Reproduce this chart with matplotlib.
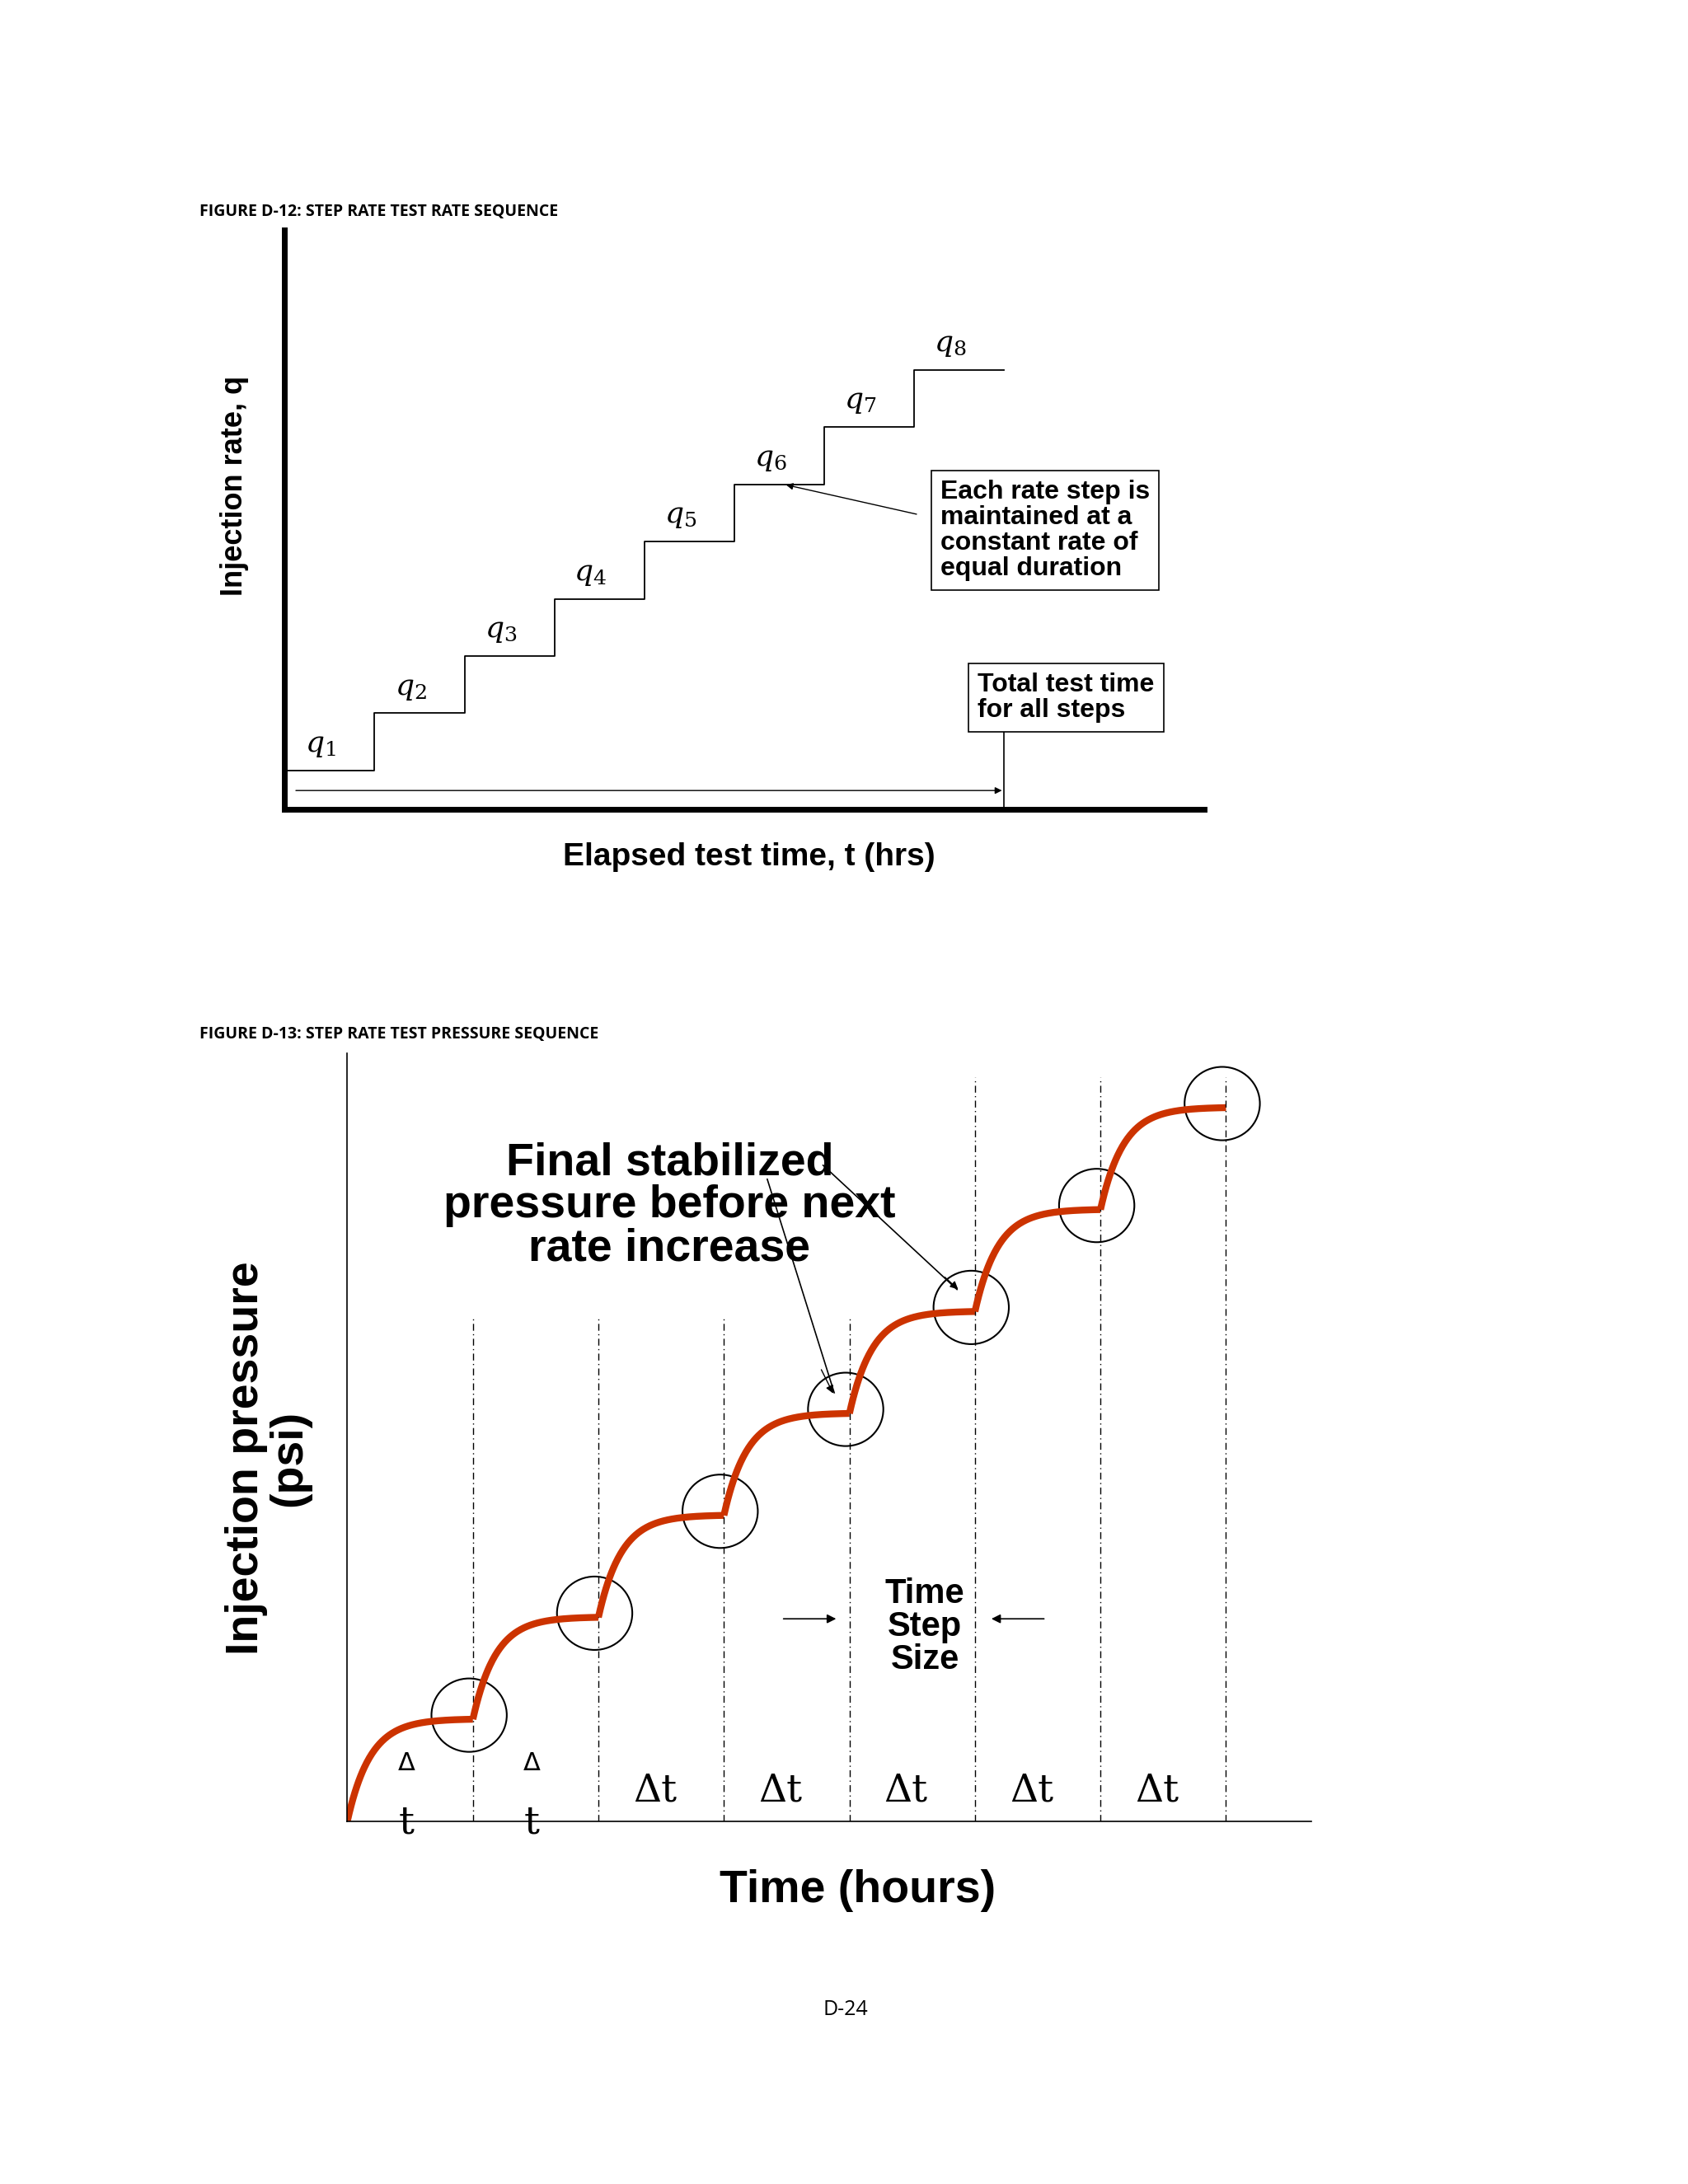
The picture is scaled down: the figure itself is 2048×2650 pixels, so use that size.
import matplotlib
matplotlib.use("Agg")
import matplotlib.pyplot as plt
import numpy as np
from matplotlib.patches import Ellipse

# ---- data ----
rate_steps = [1, 2, 3, 4, 5, 6, 7, 8]
rate_labels = ["$q_1$", "$q_2$", "$q_3$", "$q_4$", "$q_5$", "$q_6$", "$q_7$", "$q_8$"]
pressure_levels = [1, 2, 3, 4, 5, 6, 7]
step_bounds = [1, 2, 3, 4, 5, 6, 7]
dt_labels = ["Δ\nt", "Δ\nt", "Δt", "Δt", "Δt", "Δt", "Δt"]

W, H = 1210, 1565
fig = plt.figure(figsize=(20.48, 26.5), dpi=100)
SANS = ["Liberation Sans", "DejaVu Sans"]

def F(x, y):
    return (x / W, 1 - y / H)

def txt(x, y, s, **kw):
    kw.setdefault("family", SANS)
    fig.text(*F(x, y), s, transform=fig.transFigure, **kw)

def ax_at(x0, y0, x1, y1):
    l, b = F(x0, y1)
    r, t = F(x1, y0)
    return fig.add_axes([l, b, r - l, t - b])

# ---- top chart ----
ax = ax_at(204, 165, 863, 580)
ax.set_xlim(0, 10.22)
ax.set_ylim(0.32, 10.44)
for s in ["top", "right"]:
    ax.spines[s].set_visible(False)
for s in ["left", "bottom"]:
    ax.spines[s].set_linewidth(5)
ax.set_xticks([]); ax.set_yticks([])
xs = np.arange(len(rate_steps) + 1)
ys = rate_steps + [rate_steps[-1]]
ax.step(xs, ys, where="post", color="black", lw=1.3)
for i, (q, lab) in enumerate(zip(rate_steps, rate_labels)):
    ax.text(i + 0.4, q + 0.2, lab, fontsize=26, family="DejaVu Serif",
            ha="center", va="bottom", math_fontfamily="dejavuserif")
ax.annotate("", xy=(8, 0.65), xytext=(0.1, 0.65),
            arrowprops=dict(arrowstyle="-|>", color="black", lw=1, mutation_scale=12))
ax.plot([8, 8], [0.32, 1.72], color="black", lw=1.2)
ax.annotate("", xy=(5.55, 6.0), xytext=(7.05, 5.47),
            arrowprops=dict(arrowstyle="-|>", color="black", lw=1, mutation_scale=12))
txt(674, 380, "Each rate step is\nmaintained at a\nconstant rate of\nequal duration", fontsize=23,
    weight="bold", va="center", linespacing=1.05,
    bbox=dict(boxstyle="square,pad=0.35", fc="white", ec="black", lw=1.2))
txt(701, 500, "Total test time\nfor all steps", fontsize=23, weight="bold", va="center",
    linespacing=1.05, bbox=dict(boxstyle="square,pad=0.35", fc="white", ec="black", lw=1.2))
txt(168, 348, "Injection rate, q", fontsize=26, weight="bold", rotation=90, ha="center", va="center")
txt(537, 614, "Elapsed test time, t (hrs)", fontsize=28, weight="bold", ha="center", va="center")
txt(143, 152, "FIGURE D-12: STEP RATE TEST RATE SEQUENCE", fontsize=14, weight="bold",
    family=["Open Sans", "DejaVu Sans"], va="center")

# ---- bottom chart ----
bx = ax_at(249, 755, 940, 1305)
bx.set_xlim(0, 7.68)
bx.set_ylim(0, 7.53)
for s in ["top", "right"]:
    bx.spines[s].set_visible(False)
bx.spines["left"].set_linewidth(1.2)
bx.spines["bottom"].set_linewidth(1.2)
bx.set_xticks([]); bx.set_yticks([])
bx.patch.set_alpha(0)

prev = 0.0
for i, (lvl, xb) in enumerate(zip(pressure_levels, step_bounds)):
    t = np.linspace(xb - 1, xb, 200)
    u = t - (xb - 1)
    shape = 1 - np.exp(-5.5 * u)
    shape = shape / shape[-1]
    bx.plot(t, prev + (lvl - prev) * shape, color="#CC3300", lw=6, solid_capstyle="butt")
    prev = lvl
    top = 4.95 if i < 4 else 7.3
    bx.plot([xb, xb], [0, top], color="black", lw=1, ls=(0, (6, 3, 1, 3)))
    bx.add_patch(Ellipse((xb - 0.03, lvl + 0.04), 0.6, 0.72, fill=False, ec="black", lw=1.5))
    lab = dt_labels[i]
    if "\n" in lab:
        bx.text(xb - 0.53, 0.57, "Δ", fontsize=22, ha="center", va="center", family="DejaVu Sans")
        bx.text(xb - 0.53, -0.02, "t", fontsize=34, ha="center", va="center", family="DejaVu Serif")
    else:
        bx.text(xb - 0.55, 0.3, lab, fontsize=34, ha="center", va="center", family="DejaVu Serif")

txt(480, 864, "Final stabilized\npressure before next\nrate increase", fontsize=40, weight="bold",
    ha="center", va="center", linespacing=1.0)
fig.add_artist(plt.Line2D([550 / W, 598 / W], [1 - 845 / H, 1 - 998 / H], color="black", lw=1.2))
fig.add_artist(plt.Line2D([590 / W, 686 / W], [1 - 835 / H, 1 - 924 / H], color="black", lw=1.2))
fig.patches.append(matplotlib.patches.FancyArrowPatch(F(588, 980), F(598, 1000),
    transform=fig.transFigure, arrowstyle="-|>", mutation_scale=14, color="black"))
fig.patches.append(matplotlib.patches.FancyArrowPatch(F(676, 914), F(688, 925),
    transform=fig.transFigure, arrowstyle="-|>", mutation_scale=14, color="black"))
txt(663, 1166, "Time\nStep\nSize", fontsize=30, weight="bold", ha="center", va="center", linespacing=1.0)
fig.patches.append(matplotlib.patches.FancyArrowPatch(F(560, 1160), F(601, 1160),
    transform=fig.transFigure, arrowstyle="-|>", mutation_scale=16, color="black", lw=1.2))
fig.patches.append(matplotlib.patches.FancyArrowPatch(F(750, 1160), F(709, 1160),
    transform=fig.transFigure, arrowstyle="-|>", mutation_scale=16, color="black", lw=1.2))
txt(192, 1045, "Injection pressure\n(psi)", fontsize=40, weight="bold", rotation=90,
    ha="center", va="center", linespacing=1.0)
txt(615, 1355, "Time (hours)", fontsize=40, weight="bold", ha="center", va="center")
txt(143, 741, "FIGURE D-13: STEP RATE TEST PRESSURE SEQUENCE", fontsize=14, weight="bold",
    family=["Open Sans", "DejaVu Sans"], va="center")
txt(606, 1440, "D-24", fontsize=18, family=["Open Sans", "DejaVu Sans"], ha="center", va="center")

fig.savefig("out.png", dpi=100)
